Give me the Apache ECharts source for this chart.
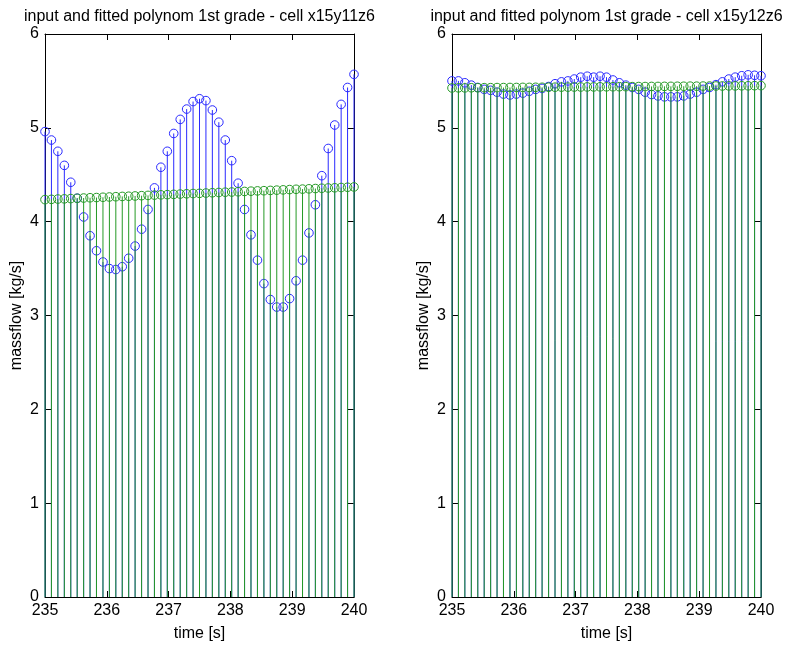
<!DOCTYPE html>
<html>
<head>
<meta charset="utf-8">
<script src="https://cdn.jsdelivr.net/npm/echarts@6/dist/echarts.min.js"></script>
<style>
  html, body { margin: 0; padding: 0; background: #fff; }
  #chart { width: 788px; height: 648px; }
</style>
</head>
<body>
<div id="chart"></div>
<script>
// Sample times [s]
const time = [
  235.000, 235.104, 235.208, 235.313, 235.417, 235.521, 235.625, 235.729, 235.833, 235.938,
  236.042, 236.146, 236.250, 236.354, 236.458, 236.563, 236.667, 236.771, 236.875, 236.979,
  237.083, 237.188, 237.292, 237.396, 237.500, 237.604, 237.708, 237.813, 237.917, 238.021,
  238.125, 238.229, 238.333, 238.438, 238.542, 238.646, 238.750, 238.854, 238.958, 239.063,
  239.167, 239.271, 239.375, 239.479, 239.583, 239.688, 239.792, 239.896, 240.000
];

// cell x15y11z6: input massflow and fitted 1st grade polynom [kg/s]
const inputA = [
  4.96, 4.87, 4.75, 4.60, 4.42, 4.25, 4.05, 3.85, 3.69, 3.57,
  3.50, 3.49, 3.52, 3.61, 3.74, 3.92, 4.13, 4.36, 4.58, 4.75,
  4.94, 5.09, 5.20, 5.28, 5.31, 5.29, 5.19, 5.06, 4.87, 4.65,
  4.41, 4.13, 3.86, 3.59, 3.34, 3.17, 3.09, 3.09, 3.18, 3.37,
  3.59, 3.88, 4.18, 4.49, 4.78, 5.03, 5.25, 5.43, 5.57
];
const fitA = [
  4.235, 4.238, 4.241, 4.243, 4.246, 4.249, 4.252, 4.255, 4.257, 4.260,
  4.263, 4.266, 4.269, 4.271, 4.274, 4.277, 4.280, 4.283, 4.286, 4.288,
  4.291, 4.294, 4.297, 4.300, 4.302, 4.305, 4.308, 4.311, 4.314, 4.316,
  4.319, 4.322, 4.325, 4.328, 4.330, 4.333, 4.336, 4.339, 4.342, 4.345,
  4.347, 4.350, 4.353, 4.356, 4.359, 4.361, 4.364, 4.367, 4.370
];

// cell x15y12z6
const inputB = [
  5.50, 5.50, 5.48, 5.455, 5.43, 5.41, 5.40, 5.38, 5.36, 5.35,
  5.36, 5.37, 5.39, 5.41, 5.42, 5.44, 5.47, 5.49, 5.50, 5.52,
  5.54, 5.55, 5.54, 5.55, 5.54, 5.51, 5.48, 5.455, 5.43, 5.41,
  5.38, 5.355, 5.34, 5.33, 5.33, 5.33, 5.34, 5.36, 5.38, 5.41,
  5.43, 5.46, 5.49, 5.52, 5.54, 5.555, 5.565, 5.56, 5.555
];
const fitB = [
  5.425, 5.426, 5.426, 5.427, 5.427, 5.428, 5.428, 5.429, 5.429, 5.430,
  5.430, 5.431, 5.431, 5.432, 5.432, 5.433, 5.433, 5.434, 5.434, 5.435,
  5.435, 5.436, 5.436, 5.437, 5.437, 5.438, 5.438, 5.439, 5.439, 5.440,
  5.440, 5.441, 5.441, 5.442, 5.442, 5.443, 5.443, 5.444, 5.444, 5.445,
  5.445, 5.446, 5.446, 5.447, 5.447, 5.448, 5.448, 5.449, 5.450
];

const titles = [
  'input and fitted polynom 1st grade - cell x15y11z6',
  'input and fitted polynom 1st grade - cell x15y12z6'
];
const xTicks = { min: 235, max: 240, interval: 1 };
const yTicks = { min: 0, max: 6, interval: 1 };
const xName = 'time [s]';
const yName = 'massflow [kg/s]';

const FONT = 'Liberation Sans, Arial, Helvetica, sans-serif';
const BLUE = '#2a2aff';
const GREEN = '#259a25';

const grids = [
  { left: 45, top: 34, width: 309, height: 563 },
  { left: 452, top: 34, width: 309, height: 563 }
];

function pairs(xs, ys) {
  return xs.map((x, i) => [x, ys[i]]);
}

// MATLAB-like stem: line from the baseline up to the value, open circle on top
function stemSeries(gridIdx, data, color) {
  return {
    type: 'custom',
    xAxisIndex: gridIdx * 2,
    yAxisIndex: gridIdx * 2,
    clip: false,
    silent: true,
    data: data,
    renderItem: function (params, api) {
      const x = api.value(0), y = api.value(1);
      const p0 = api.coord([x, 0]);
      const p1 = api.coord([x, y]);
      return {
        type: 'group',
        children: [
          { type: 'line', shape: { x1: p0[0], y1: p0[1], x2: p1[0], y2: p1[1] },
            style: { stroke: color, lineWidth: 1 } },
          { type: 'circle', shape: { cx: p1[0], cy: p1[1], r: 4.3 },
            style: { fill: 'none', stroke: color, lineWidth: 1 } }
        ]
      };
    }
  };
}

const axisLineStyle = { show: true, onZero: false, lineStyle: { color: '#000', width: 1 } };
const tickStyle = { show: true, inside: true, length: 6, lineStyle: { color: '#000', width: 1 } };
const labelStyle = { color: '#000', fontSize: 16, fontFamily: FONT };

const xAxes = [], yAxes = [];
grids.forEach((g, gi) => {
  xAxes.push({
    type: 'value', gridIndex: gi, position: 'bottom',
    min: xTicks.min, max: xTicks.max, interval: xTicks.interval,
    axisLine: axisLineStyle, axisTick: tickStyle,
    axisLabel: Object.assign({ margin: 6 }, labelStyle),
    splitLine: { show: false }
  });
  xAxes.push({
    type: 'value', gridIndex: gi, position: 'top',
    min: xTicks.min, max: xTicks.max, interval: xTicks.interval,
    axisLine: axisLineStyle, axisTick: tickStyle,
    axisLabel: { show: false }, splitLine: { show: false }
  });
  yAxes.push({
    type: 'value', gridIndex: gi, position: 'left',
    min: yTicks.min, max: yTicks.max, interval: yTicks.interval,
    axisLine: axisLineStyle, axisTick: tickStyle,
    axisLabel: Object.assign({ margin: 6 }, labelStyle),
    splitLine: { show: false }
  });
  yAxes.push({
    type: 'value', gridIndex: gi, position: 'right',
    min: yTicks.min, max: yTicks.max, interval: yTicks.interval,
    axisLine: axisLineStyle, axisTick: tickStyle,
    axisLabel: { show: false }, splitLine: { show: false }
  });
});

const textStyle = (t) => ({ text: t, fill: '#000', fontSize: 16, fontFamily: FONT,
  align: 'center', verticalAlign: 'middle' });

const graphics = [];
grids.forEach((g, gi) => {
  const cx = g.left + g.width / 2;
  const cy = g.top + g.height / 2;
  graphics.push({ type: 'text', x: cx, y: 17, style: textStyle(titles[gi]) });
  graphics.push({ type: 'text', x: cx, y: 634, style: textStyle(xName) });
  graphics.push({ type: 'text', x: g.left - 28.5, y: cy, rotation: Math.PI / 2,
    style: textStyle(yName) });
});

const chart = echarts.init(document.getElementById('chart'), null, { renderer: 'canvas' });
chart.setOption({
  animation: false,
  backgroundColor: '#fff',
  grid: grids.map(g => Object.assign({ containLabel: false, outerBoundsMode: 'none' }, g)),
  xAxis: xAxes,
  yAxis: yAxes,
  graphic: graphics,
  series: [
    stemSeries(0, pairs(time, inputA), BLUE),
    stemSeries(0, pairs(time, fitA), GREEN),
    stemSeries(1, pairs(time, inputB), BLUE),
    stemSeries(1, pairs(time, fitB), GREEN)
  ]
});
</script>
</body>
</html>
